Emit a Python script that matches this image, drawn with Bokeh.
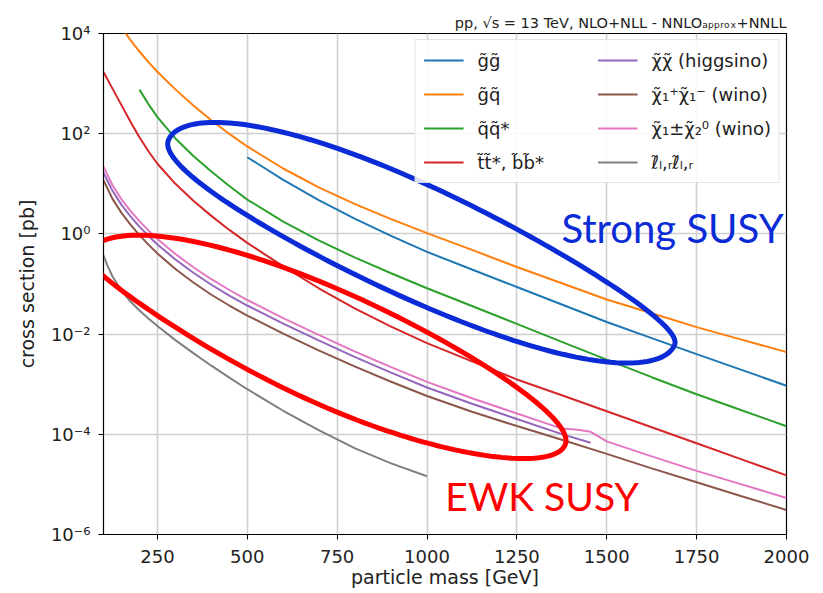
import numpy as np
from bokeh.plotting import figure
from bokeh.models import (Legend, LegendItem, FixedTicker, PolyAnnotation,
                          CustomJSTickFormatter, Range1d)
from bokeh.core.properties import value
from bokeh.embed import file_html
from bokeh.resources import INLINE

# ---- cross sections (pb) vs. particle mass (GeV) ----
gg_mass = [500, 550, 600, 700, 800, 900, 1000, 1125, 1250, 1375, 1500, 1625, 1750, 1875, 2000]
gg_xsec = [33.9, 20.2, 12.0, 4.68, 2.00, 0.912, 0.437, 0.195, 0.0871, 0.0389, 0.0174,
           0.00832, 0.00398, 0.00193, 0.000933]

gq_mass = [150, 175, 200, 225, 250, 300, 350, 400, 450, 500, 600, 700, 800, 900, 1000,
           1125, 1250, 1375, 1500, 1625, 1750, 1875, 2000]
gq_xsec = [13200, 7410, 4370, 2690, 1720, 767, 367, 186, 98.9, 55.6, 20.2, 8.41, 3.94, 1.97,
           1.035, 0.479, 0.219, 0.1035, 0.049, 0.026, 0.0138, 0.00776, 0.00437]

qq_mass = [200, 225, 250, 300, 350, 400, 450, 500, 600, 700, 800, 900, 1000, 1125, 1250,
           1375, 1500, 1625, 1750, 1875, 2000]
qq_xsec = [759, 389, 214, 80.4, 35.9, 17.6, 9.02, 4.84, 1.76, 0.733, 0.335, 0.164, 0.0822,
           0.0363, 0.016, 0.0070, 0.00309, 0.00138, 0.00063, 0.000302, 0.000145]

tt_mass = [100, 125, 150, 175, 200, 225, 250, 300, 350, 400, 450, 500, 600, 700, 800, 900,
           1000, 1125, 1250, 1375, 1500, 1625, 1750, 1875, 2000]
tt_xsec = [1700, 794, 372, 174, 85.1, 44.7, 25.1, 10.0, 4.57, 2.29, 1.20, 0.661, 0.224,
           0.0813, 0.0324, 0.0141, 0.0066, 0.00285, 0.001245, 0.000603, 0.000288,
           0.000138, 0.0000661, 0.0000316, 0.0000151]

hino_mass = [100, 125, 150, 175, 200, 225, 250, 300, 350, 400, 450, 500, 600, 700, 800, 900,
             1000, 1125, 1250, 1375, 1455]
hino_xsec = [16.6, 7.24, 3.80, 2.24, 1.40, 0.912, 0.617, 0.309, 0.168, 0.0966, 0.0589, 0.0372,
             0.0162, 0.00741, 0.00347, 0.0017, 0.000861, 0.000407, 0.000202, 0.000101,
             0.0000676]

c1c1_mass = [100, 125, 150, 175, 200, 225, 250, 300, 350, 400, 450, 500, 600, 700, 800, 900,
             1000, 1125, 1250, 1375, 1500, 1625, 1750, 1875, 2000]
c1c1_xsec = [11.75, 5.01, 2.63, 1.53, 0.944, 0.61, 0.407, 0.1995, 0.107, 0.061, 0.0372, 0.0234,
             0.0102, 0.00468, 0.00224, 0.00112, 0.000582, 0.000282, 0.000146, 0.0000776,
             0.0000407, 0.0000209, 0.000011, 0.00000582, 0.00000309]

c1n2_mass = [100, 125, 150, 175, 200, 225, 250, 300, 350, 400, 450, 500, 600, 700, 800, 900,
             1000, 1125, 1250, 1375, 1420, 1455, 1500, 1625, 1750, 1875, 2000]
c1n2_xsec = [21.9, 9.33, 4.90, 2.88, 1.80, 1.175, 0.794, 0.398, 0.216, 0.1245, 0.0759, 0.0479,
             0.0209, 0.00955, 0.00447, 0.00219, 0.00111, 0.000525, 0.00026, 0.00013,
             0.000123, 0.000112, 0.0000724, 0.0000363, 0.0000186, 0.00001, 0.00000537]

slep_mass = [100, 110, 125, 150, 175, 200, 225, 250, 300, 350, 400, 450, 500, 600, 700, 800,
             900, 1000]
slep_xsec = [0.372, 0.24, 0.141, 0.0741, 0.0447, 0.0295, 0.0204, 0.0145, 0.00759, 0.00417,
             0.00234, 0.00135, 0.000794, 0.000295, 0.00012, 0.0000525, 0.0000263, 0.0000145]

x_ticks = [250, 500, 750, 1000, 1250, 1500, 1750, 2000]
y_ticks = [1e-6, 1e-4, 1e-2, 1e0, 1e2, 1e4]

series = [
    ("g\u0303g\u0303", gg_mass, gg_xsec, "#1f77b4"),
    ("g\u0303q\u0303", gq_mass, gq_xsec, "#ff7f0e"),
    ("q\u0303q\u0303*", qq_mass, qq_xsec, "#2ca02c"),
    ("t\u0303t\u0303*, b\u0303b\u0303*", tt_mass, tt_xsec, "#d62728"),
    ("\u03c7\u0303\u03c7\u0303 (higgsino)", hino_mass, hino_xsec, "#9467bd"),
    ("\u03c7\u0303\u2081\u207a\u03c7\u0303\u2081\u207b (wino)", c1c1_mass, c1c1_xsec, "#8c564b"),
    ("\u03c7\u0303\u2081\u00b1\u03c7\u0303\u2082\u2070 (wino)", c1n2_mass, c1n2_xsec, "#e377c2"),
    ("\u2113\u0303\u2097,\u1d63\u2113\u0303\u2097,\u1d63", slep_mass, slep_xsec, "#7f7f7f"),
]

FONT = "DejaVu Sans"
FRAME_W, FRAME_H = 683, 501

p = figure(frame_width=FRAME_W, frame_height=FRAME_H, y_axis_type="log",
           x_range=Range1d(100, 2000), y_range=Range1d(1e-6, 1e4),
           output_backend="svg", toolbar_location=None,
           min_border_left=103, min_border_right=37,
           min_border_top=33, min_border_bottom=59)
p.background_fill_color = "white"
p.border_fill_color = "white"
p.outline_line_color = "black"
p.outline_line_width = 1.2

p.title.text = "pp, \u221as = 13 TeV, NLO+NLL - NNLO\u2090\u209a\u209a\u1d63\u2092\u2093+NNLL"
p.title.align = "right"
p.title.text_font = FONT
p.title.text_font_size = "14.5px"
p.title.text_font_style = "normal"
p.title.text_color = "#222222"
p.title.standoff = 6

p.xaxis.ticker = FixedTicker(ticks=x_ticks, minor_ticks=[])
p.yaxis.ticker = FixedTicker(ticks=y_ticks, minor_ticks=[])
p.yaxis.formatter = CustomJSTickFormatter(code="""
    const sup = {"-": "\u207b", "0": "\u2070", "1": "\u00b9", "2": "\u00b2", "3": "\u00b3",
                 "4": "\u2074", "5": "\u2075", "6": "\u2076", "7": "\u2077", "8": "\u2078", "9": "\u2079"};
    const e = String(Math.round(Math.log10(tick)));
    return "10" + e.split("").map(c => sup[c]).join("");
""")
for ax in (p.xaxis[0], p.yaxis[0]):
    ax.major_label_text_font = FONT
    ax.major_label_text_font_size = "18px"
    ax.major_label_text_color = "#222222"
    ax.axis_label_text_font = FONT
    ax.axis_label_text_font_size = "19px"
    ax.axis_label_text_font_style = "normal"
    ax.axis_label_text_color = "#222222"
    ax.major_tick_out = 5
    ax.major_tick_in = 0
    ax.minor_tick_out = 0
    ax.minor_tick_in = 0
    ax.axis_line_color = "black"
    ax.major_tick_line_color = "black"
p.xaxis.major_label_standoff = 10
p.yaxis.major_label_standoff = 8
p.xaxis.axis_label = "particle mass [GeV]"
p.yaxis.axis_label = "cross section [pb]"
p.xaxis.axis_label_standoff = 0
p.yaxis.axis_label_standoff = 10

p.xgrid.grid_line_color = "#d0d0d0"
p.ygrid.grid_line_color = "#d0d0d0"
p.xgrid.grid_line_width = 1.6
p.ygrid.grid_line_width = 1.6

items = []
for name, m, xs, color in series:
    r = p.line(m, xs, line_color=color, line_width=2.0)
    items.append(LegendItem(label=name, renderers=[r]))

legend = Legend(items=items, location="top_right", ncols=2)
legend.label_text_font = FONT
legend.label_text_font_size = "18px"
legend.label_text_color = "#222222"
legend.glyph_width = 40
legend.glyph_height = 24
legend.label_height = 24
legend.label_width = 110
legend.label_standoff = 14
legend.spacing = 10
legend.padding = 8
legend.margin = 6
legend.border_line_color = "#cccccc"
legend.border_line_width = 1
legend.background_fill_alpha = 0.85
p.add_layout(legend)


def ring_outline(cx, cy, a, theta_deg, b_up, b_lo, n=200):
    """Closed, slightly lopsided loop around an axis through (cx, cy).

    cx, cy are canvas pixels (y down); b_up / b_lo give the half-width of the
    upper / lower side as a function of the position w (0..1) along the axis.
    The result is in frame pixels (origin at the frame's bottom-left, y up).
    """
    t = np.linspace(0, 2 * np.pi, n)
    u = a * np.cos(t)
    w = (1 + np.cos(t)) / 2
    s = np.sin(t)
    nrm = np.where(s < 0, b_up(w), b_lo(w)) * s
    th = np.radians(theta_deg)
    x = cx + u * np.cos(th) - nrm * np.sin(th)
    y = cy + u * np.sin(th) + nrm * np.cos(th)
    return list(x - 103), list(534 - y)


# highlight rings drawn over the plot
bx, by = ring_outline(421, 242, 273, 22.0,
                      b_up=lambda w: 70 - 30 * w, b_lo=lambda w: 50 + 21 * w ** 1.5)
p.add_layout(PolyAnnotation(xs=bx, ys=by, xs_units="screen", ys_units="screen",
                            fill_alpha=0, line_color="#0a2bd6", line_alpha=1.0,
                            line_width=5, level="overlay"))
rx, ry = ring_outline(326, 349, 257, 21.7,
                      b_up=lambda w: 70 - 20 * w, b_lo=lambda w: 32 + 60 * w - 35 * w ** 2)
p.add_layout(PolyAnnotation(xs=rx, ys=ry, xs_units="screen", ys_units="screen",
                            fill_alpha=0, line_color="#ff0000", line_alpha=1.0,
                            line_width=5, level="overlay"))

p.text(x=[1374], y=[10 ** 0.12], text=["Strong SUSY"], text_font=value("Lato"),
       text_font_size="40px", text_color="#0a2bd6", text_baseline="alphabetic")
p.text(x=[1051], y=[10 ** -5.24], text=["EWK SUSY"], text_font=value("Lato"),
       text_font_size="39px", text_color="#ff0000", text_baseline="alphabetic")

open("out.html", "w").write(file_html(p, INLINE))
